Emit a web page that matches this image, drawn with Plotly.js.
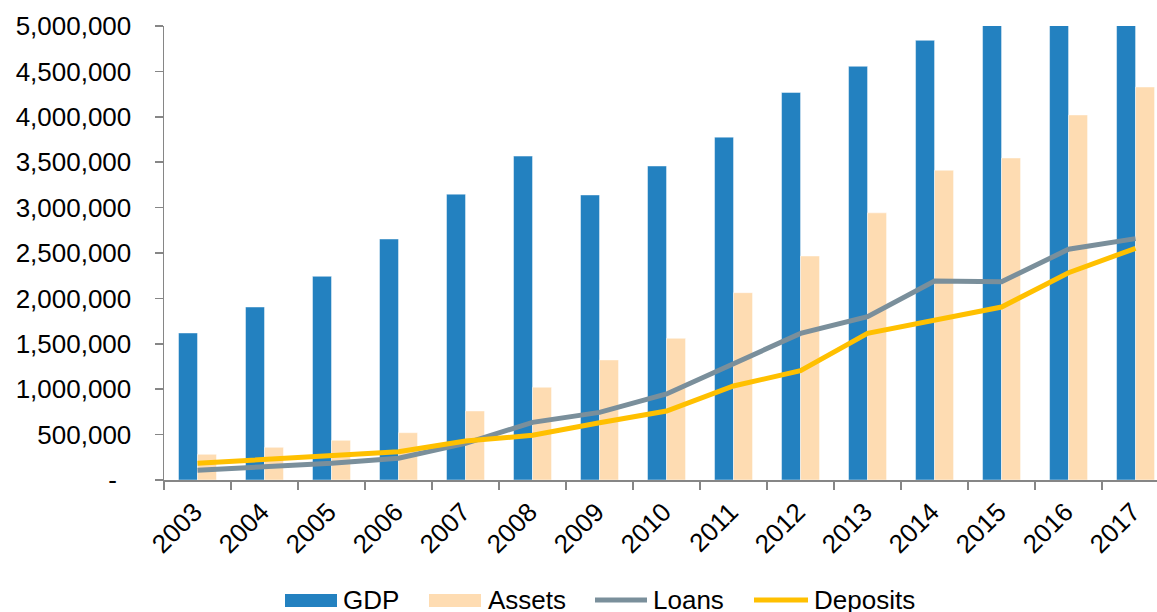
<!DOCTYPE html>
<html><head><meta charset="utf-8">
<script src="https://cdn.plot.ly/plotly-3.0.1.min.js"></script>
<style>html,body{margin:0;padding:0;background:#fff;overflow:hidden}#chart{width:1157px;height:612px}</style>
</head><body><div id="chart"></div>
<script>
const years = ['2003','2004','2005','2006','2007','2008','2009','2010','2011','2012','2013','2014','2015','2016','2017'];
const gdp = [1619000,1905000,2243000,2654000,3148000,3567000,3139000,3458000,3776000,4268000,4556000,4842000,5150000,5450000,5800000];
const assets = [283000,360000,437000,521000,760000,1021000,1322000,1560000,2063000,2467000,2942000,3411000,3546000,4020000,4328000];
const loans = [107000,145000,184000,239000,404000,635000,745000,947000,1274000,1615000,1799000,2192000,2184000,2541000,2658000];
const deposits = [184000,228000,264000,312000,430000,492000,631000,760000,1035000,1204000,1615000,1762000,1905000,2283000,2552000];
const yTickVals = [0,500000,1000000,1500000,2000000,2500000,3000000,3500000,4000000,4500000,5000000];
const yTickText = ['-\u00a0\u00a0','500,000','1,000,000','1,500,000','2,000,000','2,500,000','3,000,000','3,500,000','4,000,000','4,500,000','5,000,000'];
const seriesNames = ['GDP','Assets','Loans','Deposits'];
const seriesColors = ['#2381C0','#FEDCB2','#7A8F9B','#FFC000'];

const FONT = 'Liberation Sans, Arial, sans-serif';
const L = 164, T = 26, W = 993, H = 454;
const px = v => (v - L) / W;
const py = v => (T + H - v) / H;

const traces = [
  {type:'bar', name:seriesNames[0], x:years, y:gdp, marker:{color:seriesColors[0], line:{color:'rgba(255,255,255,0.45)', width:1}}},
  {type:'bar', name:seriesNames[1], x:years, y:assets, marker:{color:seriesColors[1], line:{color:'rgba(255,255,255,0.45)', width:1}}},
  {type:'scatter', mode:'lines', name:seriesNames[2], x:years, y:loans, line:{color:seriesColors[2], width:5}},
  {type:'scatter', mode:'lines', name:seriesNames[3], x:years, y:deposits, line:{color:seriesColors[3], width:5}}
];

const legendItems = [
  {kind:'rect', x0:285, x1:337, tx:342},
  {kind:'rect', x0:429, x1:481, tx:487},
  {kind:'line', x0:595, x1:647, tx:652},
  {kind:'line', x0:754, x1:808, tx:813}
];
const shapes = [], annotations = [];
legendItems.forEach((it, i) => {
  if (it.kind === 'rect') {
    shapes.push({type:'rect', xref:'paper', yref:'paper', x0:px(it.x0), x1:px(it.x1), y0:py(607), y1:py(594), fillcolor:seriesColors[i], line:{width:0}});
  } else {
    shapes.push({type:'line', xref:'paper', yref:'paper', x0:px(it.x0), x1:px(it.x1), y0:py(600), y1:py(600), line:{color:seriesColors[i], width:5}});
  }
  annotations.push({xref:'paper', yref:'paper', x:px(it.tx), y:py(600), xanchor:'left', yanchor:'middle', text:seriesNames[i], showarrow:false, font:{family:FONT, size:26, color:'#000'}, borderpad:0});
});

const layout = {
  width:1157, height:612,
  margin:{l:L, r:1157-L-W, t:T, b:612-T-H},
  paper_bgcolor:'#fff', plot_bgcolor:'#fff',
  font:{family:FONT, size:26, color:'#000'},
  barmode:'group', bargap:0.433, bargroupgap:0,
  showlegend:false,
  xaxis:{type:'category', range:[-0.5, 14.32], tickson:'boundaries', ticks:'outside', ticklen:8, tickwidth:1.5, tickcolor:'#868686',
         showline:true, linecolor:'#868686', linewidth:1.5, showgrid:false, zeroline:false, tickangle:-45, ticklabelstandoff:5, ticklabelshift:-3,
         tickfont:{family:FONT, size:26, color:'#000'}},
  yaxis:{range:[0,5000000], tickmode:'array', tickvals:yTickVals, ticktext:yTickText, ticks:'outside', ticklen:8, tickwidth:1.5, tickcolor:'#868686',
         showline:true, linecolor:'#868686', linewidth:1.5, showgrid:false, zeroline:false, ticklabelstandoff:18, tickfont:{family:FONT, size:26, color:'#000'}},
  shapes:shapes, annotations:annotations
};
Plotly.newPlot('chart', traces, layout, {displayModeBar:false, staticPlot:true});
</script></body></html>
